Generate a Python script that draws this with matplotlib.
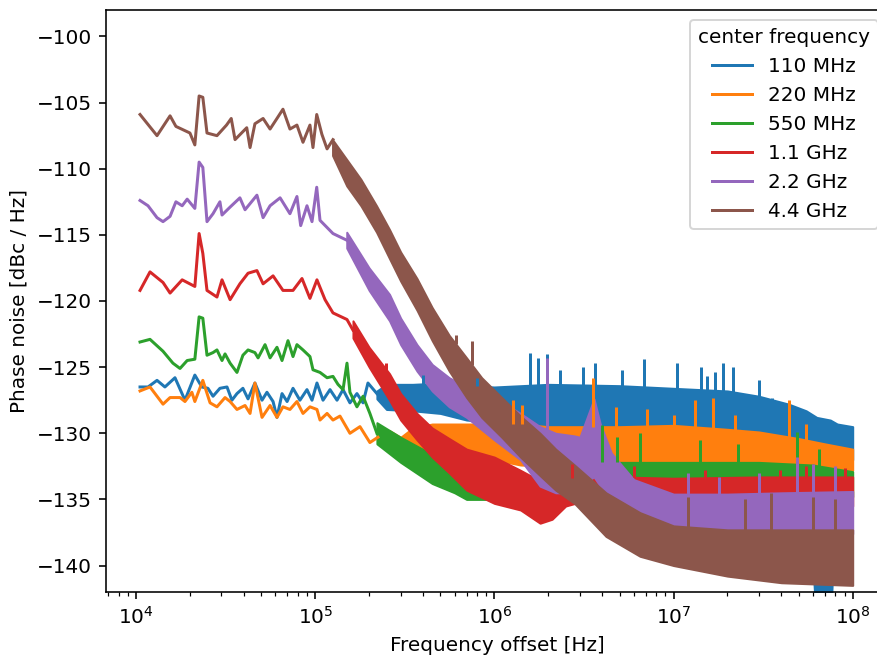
import numpy as np
import matplotlib
matplotlib.use("Agg")
import matplotlib.pyplot as plt

# ---------------- data ----------------
labels = ["110 MHz", "220 MHz", "550 MHz", "1.1 GHz", "2.2 GHz", "4.4 GHz"]
colors = ["#1f77b4", "#ff7f0e", "#2ca02c", "#d62728", "#9467bd", "#8c564b"]

# --- 110 MHz ---
f_line_110 = [1.053e4, 1.167e4, 1.31e4, 1.45e4, 1.65e4, 1.876e4, 2.13e4, 2.33e4, 2.52e4, 2.69e4,
              2.94e4, 3.22e4, 3.43e4, 3.66e4, 3.95e4, 4.22e4, 4.61e4, 5.05e4, 5.38e4, 5.82e4,
              6.12e4, 6.53e4, 6.97e4, 7.52e4, 8.22e4, 9.0e4, 9.6e4, 1.023e5, 1.106e5, 1.21e5,
              1.324e5, 1.43e5, 1.563e5, 1.71e5, 1.85e5, 1.97e5, 2.21e5]
v_line_110 = [-126.5, -126.5, -126.0, -126.5, -125.8, -127.5, -125.6, -126.5, -126.6, -127.2,
              -126.6, -126.5, -127.5, -127.0, -126.6, -127.4, -126.2, -127.5, -126.9, -127.6,
              -128.8, -127.0, -127.6, -126.6, -127.5, -126.7, -127.5, -126.2, -127.5, -126.7,
              -127.5, -126.7, -127.7, -127.0, -127.7, -126.2, -127.0]
f_band_110 = [2.21e5, 2.5e5, 3.5e5, 5e5, 7e5, 1e6, 2e6, 5e6, 1e7, 2e7, 3e7, 4.4e7, 5.5e7, 6.3e7, 7.5e7, 8.2e7, 1e8]
hi_band_110 = [-126.8, -126.3, -126.3, -126.2, -126.4, -126.5, -126.3, -126.4, -126.6, -126.8, -127.2, -127.8, -128.3, -128.8, -129.0, -129.3, -129.5]
lo_band_110 = [-127.4, -128.2, -128.3, -128.5, -129.0, -129.2, -129.5, -129.5, -129.5, -129.7, -130.0, -130.5, -131.0, -145.0, -145.0, -131.5, -132.0]
f_spk_110 = [4e5, 8e5, 1.58e6, 1.75e6, 1.97e6, 2.32e6, 3.12e6, 3.64e6, 5.15e6, 6.84e6, 1.045e7,
             1.42e7, 1.536e7, 1.7e7, 1.89e7, 2.14e7, 3.0e7, 3.54e7, 4.47e7]
v_spk_110 = [-125.6, -125.8, -123.9, -124.3, -124.0, -125.2, -125.0, -124.7, -125.2, -124.4, -124.7,
             -125.0, -125.7, -125.4, -124.7, -125.0, -126.0, -127.3, -128.0]

# --- 220 MHz ---
f_line_220 = [1.053e4, 1.197e4, 1.415e4, 1.549e4, 1.76e4, 1.876e4, 2.05e4, 2.13e4, 2.36e4, 2.59e4,
              2.83e4, 3.14e4, 3.35e4, 3.66e4, 4.06e4, 4.33e4, 4.61e4, 5.05e4, 5.6e4, 6.12e4,
              6.61e4, 7.23e4, 7.91e4, 8.55e4, 9.35e4, 1.023e5, 1.064e5, 1.165e5, 1.257e5, 1.375e5,
              1.563e5, 1.778e5, 2.02e5, 2.24e5]
v_line_220 = [-126.8, -126.5, -127.8, -127.3, -127.3, -127.6, -126.9, -127.6, -126.0, -127.7,
              -128.0, -127.3, -127.6, -128.2, -127.9, -128.5, -126.2, -128.8, -127.9, -128.8,
              -128.0, -128.2, -127.6, -128.5, -128.0, -128.2, -129.0, -128.5, -129.0, -128.7,
              -130.0, -129.5, -130.7, -130.3]
f_band_220 = [2.24e5, 2.6e5, 3e5, 3.5e5, 4.5e5, 6e5, 8e5, 1e6, 1.4e6, 2e6, 3e6, 5e6, 1e7, 2e7, 3e7, 5e7, 7e7, 1e8]
hi_band_220 = [-129.8, -129.8, -130.3, -129.6, -129.3, -129.3, -129.3, -129.3, -129.3, -129.5, -129.5, -129.5, -129.4, -129.7, -129.9, -130.4, -130.8, -131.2]
lo_band_220 = [-130.8, -131.2, -131.8, -131.6, -131.5, -131.8, -132.0, -132.0, -132.4, -132.5, -132.5, -132.3, -132.4, -132.4, -132.3, -132.4, -132.5, -132.8]
f_spk_220 = [1.27e6, 1.426e6, 3.55e6, 4.8e6, 7.1e6, 1.0e7, 1.316e7, 1.66e7, 2.2e7, 4.41e7, 5.5e7, 8.17e7]
v_spk_220 = [-127.5, -127.9, -125.8, -128.0, -128.2, -128.6, -127.5, -127.3, -128.6, -127.5, -129.3, -131.0]

# --- 550 MHz ---
f_line_550 = [1.053e4, 1.197e4, 1.415e4, 1.607e4, 1.76e4, 1.93e4, 2.13e4, 2.25e4, 2.36e4, 2.49e4,
              2.69e4, 2.83e4, 3.02e4, 3.14e4, 3.35e4, 3.66e4, 3.95e4, 4.22e4, 4.61e4, 4.8e4,
              5.25e4, 5.6e4, 6.12e4, 6.53e4, 7.05e4, 7.52e4, 7.91e4, 8.55e4, 9.35e4, 9.72e4,
              1.064e5, 1.165e5, 1.257e5, 1.34e5, 1.43e5, 1.505e5, 1.563e5, 1.71e5, 1.85e5, 2.02e5, 2.21e5]
v_line_550 = [-123.1, -122.9, -123.8, -124.7, -125.1, -124.5, -124.4, -121.2, -121.3, -124.1,
              -123.9, -123.7, -124.5, -124.0, -124.7, -125.4, -124.1, -123.7, -123.9, -124.3,
              -123.3, -124.3, -123.5, -124.5, -123.0, -124.2, -123.3, -123.7, -124.2, -125.2,
              -125.4, -125.8, -125.7, -126.3, -126.7, -124.7, -126.9, -128.0, -127.2, -128.5, -130.0]
f_band_550 = [2.21e5, 3e5, 4.5e5, 6e5, 7e5, 1e6, 1.5e6, 2e6, 2.5e6, 4e6, 1e7, 3e7, 6e7, 1e8]
hi_band_550 = [-129.2, -130.3, -131.6, -132.2, -132.8, -133.2, -133.3, -133.0, -132.4, -132.2, -132.2, -132.2, -132.4, -132.9]
lo_band_550 = [-130.8, -132.2, -133.8, -134.5, -135.0, -135.0, -135.0, -134.8, -134.5, -134.5, -134.5, -134.5, -134.5, -134.8]
f_spk_550 = [3.98e6, 4.83e6, 6.49e6, 1.4e7, 2.3e7, 4.89e7, 6.5e7]
v_spk_550 = [-129.4, -130.3, -130.0, -130.5, -130.8, -129.9, -131.2]

# --- 1.1 GHz ---
f_line_1g1 = [1.053e4, 1.197e4, 1.415e4, 1.549e4, 1.81e4, 2.13e4, 2.25e4, 2.36e4, 2.49e4, 2.83e4,
              3.02e4, 3.35e4, 3.8e4, 4.22e4, 4.73e4, 5.12e4, 5.82e4, 6.61e4, 7.52e4, 8.44e4,
              9.35e4, 1.023e5, 1.135e5, 1.257e5, 1.505e5, 1.625e5]
v_line_1g1 = [-119.2, -117.8, -118.6, -119.4, -118.4, -118.9, -114.9, -116.4, -119.2, -119.7,
              -118.4, -119.9, -118.7, -117.9, -117.7, -118.7, -118.1, -119.2, -119.2, -118.3,
              -119.8, -118.4, -119.9, -120.9, -121.4, -122.2]
f_band_1g1 = [1.625e5, 2e5, 2.6e5, 3e5, 3.7e5, 4.5e5, 5.6e5, 7e5, 1e6, 1.4e6, 1.8e6, 2.1e6, 2.5e6, 3e6, 5e6, 1e7, 3e7, 1e8]
hi_band_1g1 = [-121.5, -123.5, -125.5, -127.0, -128.5, -129.6, -130.4, -131.2, -131.8, -132.8, -133.6, -133.8, -133.5, -133.3, -133.3, -133.4, -133.3, -133.3]
lo_band_1g1 = [-122.8, -125.0, -127.5, -129.0, -130.5, -131.8, -133.0, -134.3, -135.3, -135.8, -136.8, -136.5, -135.5, -135.2, -135.3, -135.3, -135.5, -135.5]
f_spk_1g1 = [2.5e5, 2.7e6, 6e6, 1.5e7, 3.93e7, 5.5e7, 9e7]
v_spk_1g1 = [-124.7, -132.3, -132.5, -132.8, -132.8, -132.5, -132.6]

# --- 2.2 GHz ---
f_line_2g2 = [1.053e4, 1.167e4, 1.31e4, 1.415e4, 1.549e4, 1.67e4, 1.81e4, 1.93e4, 2.13e4, 2.25e4,
              2.36e4, 2.49e4, 2.69e4, 2.94e4, 3.02e4, 3.35e4, 3.8e4, 4.06e4, 4.73e4, 5.12e4,
              5.6e4, 6.37e4, 7.23e4, 7.91e4, 8.3e4, 9.0e4, 9.6e4, 1.02e5, 1.064e5, 1.257e5, 1.5e5]
v_line_2g2 = [-112.4, -112.8, -113.7, -114.0, -113.6, -112.5, -112.8, -112.3, -113.0, -109.5,
              -109.9, -114.0, -113.4, -112.5, -113.5, -112.9, -112.2, -113.1, -112.0, -113.7,
              -112.8, -112.2, -113.4, -112.1, -114.3, -112.8, -114.0, -111.4, -113.9, -114.9, -115.4]
f_band_2g2 = [1.5e5, 2e5, 2.6e5, 3e5, 3.7e5, 4.5e5, 5.6e5, 7e5, 1e6, 1.4e6, 1.8e6, 2.2e6, 2.8e6,
              3.0e6, 3.4e6, 3.6e6, 3.9e6, 4.5e6, 6e6, 1e7, 2e7, 4e7, 1e8]
hi_band_2g2 = [-114.8, -117.5, -119.5, -121.3, -123.3, -124.8, -125.8, -126.5, -127.3, -128.5, -129.5, -130.0, -130.2,
               -130.3, -128.3, -127.4, -129.3, -131.5, -133.5, -134.6, -134.6, -134.5, -134.4]
lo_band_2g2 = [-116.0, -119.2, -121.5, -123.3, -125.3, -126.8, -128.0, -128.8, -130.5, -132.0, -134.0, -134.5, -134.5,
               -134.3, -133.5, -133.3, -134.0, -135.5, -136.5, -137.5, -137.6, -137.6, -137.6]
f_spk_2g2 = [1.966e6, 1.2e7, 1.8e7, 3e7, 4.89e7, 6e7, 8e7]
v_spk_2g2 = [-124.3, -133.0, -133.3, -133.0, -131.8, -132.3, -132.5]

# --- 4.4 GHz ---
f_line_4g4 = [1.053e4, 1.31e4, 1.549e4, 1.67e4, 2.0e4, 2.13e4, 2.25e4, 2.36e4, 2.49e4, 2.83e4,
              3.2e4, 3.4e4, 3.57e4, 4.15e4, 4.33e4, 4.61e4, 5.12e4, 5.6e4, 6.12e4, 6.61e4,
              7.23e4, 7.91e4, 8.55e4, 9.35e4, 9.72e4, 1.02e5, 1.09e5, 1.165e5, 1.257e5]
v_line_4g4 = [-105.9, -107.5, -106.0, -106.8, -107.3, -108.2, -104.5, -104.6, -107.3, -107.5,
              -106.7, -106.2, -107.8, -106.9, -108.4, -106.6, -106.2, -107.0, -106.2, -105.5,
              -107.0, -106.7, -108.0, -106.7, -108.4, -105.9, -107.4, -108.5, -107.8]
f_band_4g4 = [1.25e5, 1.5e5, 1.8e5, 2.2e5, 2.6e5, 3e5, 3.7e5, 4.5e5, 5.6e5, 7e5, 8.5e5, 1.1e6, 1.4e6,
              1.8e6, 2.2e6, 2.8e6, 4.2e6, 6.5e6, 1e7, 2e7, 4e7, 1e8]
hi_band_4g4 = [-107.8, -109.3, -110.8, -112.8, -114.6, -116.3, -118.3, -120.5, -122.6, -124.3, -125.8, -127.3, -128.7,
               -130.0, -131.2, -132.4, -134.5, -136.0, -137.0, -137.3, -137.3, -137.3]
lo_band_4g4 = [-109.0, -111.3, -112.8, -114.8, -116.8, -118.5, -120.7, -123.0, -125.3, -127.3, -128.8, -130.3, -131.8,
               -133.2, -134.3, -135.3, -137.8, -139.3, -140.0, -140.8, -141.3, -141.5]
f_spk_4g4 = [6.1e5, 7.5e5, 1.2e7, 2.5e7, 3.5e7, 6e7, 8e7]
v_spk_4g4 = [-122.6, -123.0, -134.8, -135.0, -134.5, -134.8, -135.0]

series = [
    (f_line_110, v_line_110, f_band_110, hi_band_110, lo_band_110, f_spk_110, v_spk_110),
    (f_line_220, v_line_220, f_band_220, hi_band_220, lo_band_220, f_spk_220, v_spk_220),
    (f_line_550, v_line_550, f_band_550, hi_band_550, lo_band_550, f_spk_550, v_spk_550),
    (f_line_1g1, v_line_1g1, f_band_1g1, hi_band_1g1, lo_band_1g1, f_spk_1g1, v_spk_1g1),
    (f_line_2g2, v_line_2g2, f_band_2g2, hi_band_2g2, lo_band_2g2, f_spk_2g2, v_spk_2g2),
    (f_line_4g4, v_line_4g4, f_band_4g4, hi_band_4g4, lo_band_4g4, f_spk_4g4, v_spk_4g4),
]

# ---------------- plot ----------------
DPI = 144
fig = plt.figure(figsize=(877 / DPI, 658 / DPI), dpi=DPI)
W, H = 877, 658
ax = fig.add_axes([106 / W, 66 / H, (888 - 106) / W, 582 / H])

for (fl, vl, fb, hb, lb, fs, vs), col, lab in zip(series, colors, labels):
    ax.plot(fl, vl, color=col, lw=1.5, label=lab, solid_joinstyle="round")
    ax.fill_between(fb, lb, hb, color=col, lw=1.0, edgecolor=col)
    base = np.interp(np.log10(fs), np.log10(fb), hb)
    ax.vlines(fs, base, vs, color=col, lw=1.5)

ax.set_xscale("log")
ax.set_xlim(6.8e3, 1.574e8)
ax.set_ylim(-142, -98)
ax.set_yticks([-140, -135, -130, -125, -120, -115, -110, -105, -100])
ax.set_xlabel("Frequency offset [Hz]")
ax.set_ylabel("Phase noise [dBc / Hz]")
ax.legend(title="center frequency", loc="upper right")

fig.savefig("out.png", dpi=DPI)
